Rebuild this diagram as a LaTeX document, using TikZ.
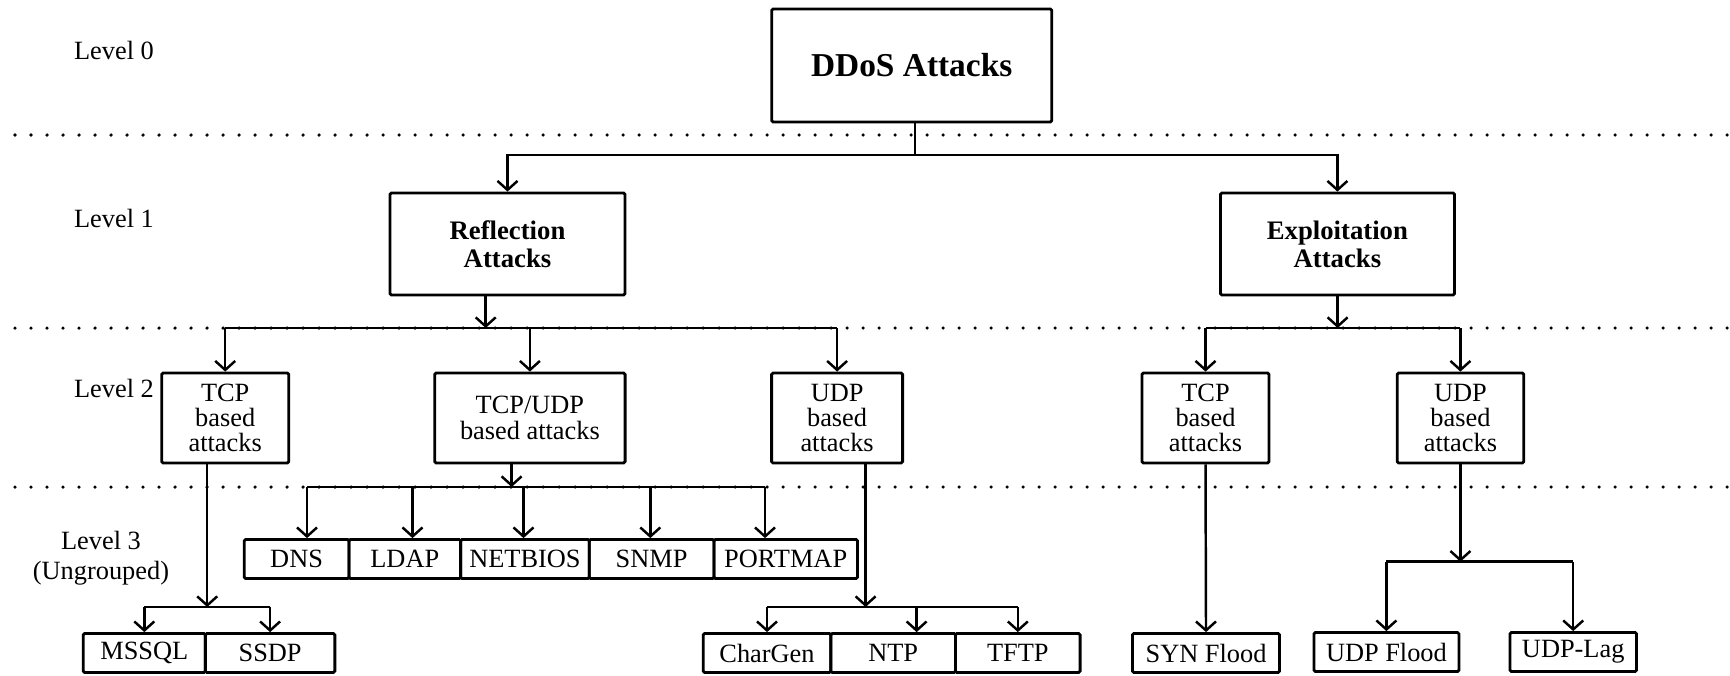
\documentclass[tikz,border=0pt]{standalone}
\usepackage{fontspec}
\setmainfont{Liberation Serif}
\usetikzlibrary{arrows.meta}

\begin{document}
\begin{tikzpicture}[
  box/.style={draw, line width=0.8pt, rounded corners=0.4pt, inner sep=0pt, align=center},
  topbox/.style={box, font=\fontsize{9.5}{11}\selectfont\bfseries},
  grpbox/.style={box, minimum height=1.02cm, font=\fontsize{7.6}{7.9}\selectfont\bfseries},
  subbox/.style={box, minimum height=0.9cm, font=\fontsize{7.5}{7.2}\selectfont},
  leafbox/.style={box, minimum height=0.39cm, font=\fontsize{7.5}{9}\selectfont},
  lvl/.style={align=center, font=\fontsize{7.5}{8.6}\selectfont},
  conn/.style={line width=0.7pt},
  arr/.style={conn, -{Straight Barb[length=0.09cm,width=0.2cm]}},
  sep/.style={line width=1pt, line cap=round, dash pattern=on 0pt off 0.16cm}
]
  \useasboundingbox (0,0) rectangle (17.3,-6.75);

  % level separators
  \foreach \y in {1.35,3.28,4.87}
    \draw[sep] (0.15,-\y) -- (17.3,-\y);

  % level labels
  \node[lvl] (lv0) at (1.14,-0.50) {Level 0};
  \node[lvl] (lv1) at (1.14,-2.18) {Level 1};
  \node[lvl] (lv2) at (1.14,-3.88) {Level 2};
  \node[lvl] (lv3) at (1.01,-5.58) {Level 3\\(Ungrouped)};

  % level 0 and 1
  \node[topbox, minimum width=2.80cm, minimum height=1.13cm] (ddos) at (9.117,-0.655) {DDoS Attacks};
  \node[grpbox, minimum width=2.35cm] (refl) at (5.075,-2.44) {Reflection\\Attacks};
  \node[grpbox, minimum width=2.34cm] (expl) at (13.374,-2.44) {Exploitation\\Attacks};

  % level 2
  \node[subbox, minimum width=1.27cm] (tcpR) at (2.252,-4.18) {TCP\\based\\attacks};
  \node[subbox, minimum width=1.904cm] (tcpudp) at (5.299,-4.18) {TCP/UDP\\based attacks};
  \node[subbox, minimum width=1.31cm] (udpR) at (8.371,-4.18) {UDP\\based\\attacks};
  \node[subbox, minimum width=1.27cm] (tcpE) at (12.055,-4.18) {TCP\\based\\attacks};
  \node[subbox, minimum width=1.265cm] (udpE) at (14.604,-4.18) {UDP\\based\\attacks};

  % level 3
  \node[leafbox, minimum width=1.047cm] (dns) at (2.966,-5.59) {DNS};
  \node[leafbox, minimum width=1.117cm] (ldap) at (4.048,-5.59) {LDAP};
  \node[leafbox, minimum width=1.286cm] (netbios) at (5.249,-5.59) {NETBIOS};
  \node[leafbox, minimum width=1.247cm] (snmp) at (6.516,-5.59) {SNMP};
  \node[leafbox, minimum width=1.436cm] (portmap) at (7.857,-5.59) {PORTMAP};

  \node[leafbox, minimum width=1.221cm] (mssql) at (1.443,-6.53) {MSSQL};
  \node[leafbox, minimum width=1.295cm] (ssdp) at (2.701,-6.53) {SSDP};
  \node[leafbox, minimum width=1.276cm] (chargen) at (7.670,-6.53) {CharGen};
  \node[leafbox, minimum width=1.247cm] (ntp) at (8.932,-6.53) {NTP};
  \node[leafbox, minimum width=1.246cm] (tftp) at (10.178,-6.53) {TFTP};
  \node[leafbox, minimum width=1.47cm] (syn) at (12.06,-6.53) {SYN Flood};
  \node[leafbox, minimum width=1.45cm] (udpflood) at (13.864,-6.52) {UDP Flood};
  \node[leafbox, minimum width=1.266cm] (udplag) at (15.732,-6.52) {UDP-Lag};

  % junctions
  \coordinate (j0) at (9.148,-1.55);
  \coordinate (j1) at (4.857,-3.28);
  \coordinate (j2) at (13.376,-3.28);
  \coordinate (j3) at (2.072,-6.07);
  \coordinate (j4) at (5.116,-4.87);
  \coordinate (j5) at (8.656,-6.07);
  \coordinate (j6) at (14.604,-5.617);

  % DDoS -> level 1
  \draw[conn] (ddos.south -| j0) -- (j0);
  \draw[arr] (j0) -| (refl.north);
  \draw[arr] (j0) -| (expl.north);

  % level 1 -> level 2
  \draw[arr] (refl.south -| j1) -- (j1);
  \draw[conn] (tcpR.north |- j1) -- (udpR.north |- j1);
  \foreach \n in {tcpR,tcpudp,udpR}
    \draw[arr] (\n.north |- j1) -- (\n.north);

  \draw[arr] (expl.south -| j2) -- (j2);
  \draw[conn] (tcpE.north |- j2) -- (udpE.north |- j2);
  \foreach \n in {tcpE,udpE}
    \draw[arr] (\n.north |- j2) -- (\n.north);

  % level 2 -> level 3
  \draw[arr] (tcpR.south -| j3) -- (j3);
  \draw[conn] (mssql.north |- j3) -- (ssdp.north |- j3);
  \foreach \n in {mssql,ssdp}
    \draw[arr] (\n.north |- j3) -- (\n.north);

  \draw[arr] (tcpudp.south -| j4) -- (j4);
  \draw[conn] ([xshift=0.104cm]dns.north |- j4) -- ([xshift=-0.207cm]portmap.north |- j4);
  \foreach \n/\dx in {dns/0.104,ldap/0.077,netbios/-0.014,snmp/-0.013,portmap/-0.207}
    \draw[arr] ([xshift=\dx cm]\n.north |- j4) -- ([xshift=\dx cm]\n.north);

  \draw[arr] (udpR.south -| j5) -- (j5);
  \draw[conn] (chargen.north |- j5) -- (tftp.north |- j5);
  \foreach \n/\dx in {chargen/0,ntp/0.234,tftp/0}
    \draw[arr] ([xshift=\dx cm]\n.north |- j5) -- ([xshift=\dx cm]\n.north);

  \draw[arr] (tcpE.south) -- (syn.north);

  \draw[arr] (udpE.south) -- (j6);
  \draw[conn] (udpflood.north |- j6) -- (udplag.north |- j6);
  \foreach \n in {udpflood,udplag}
    \draw[arr] (\n.north |- j6) -- (\n.north);
\end{tikzpicture}
\end{document}
